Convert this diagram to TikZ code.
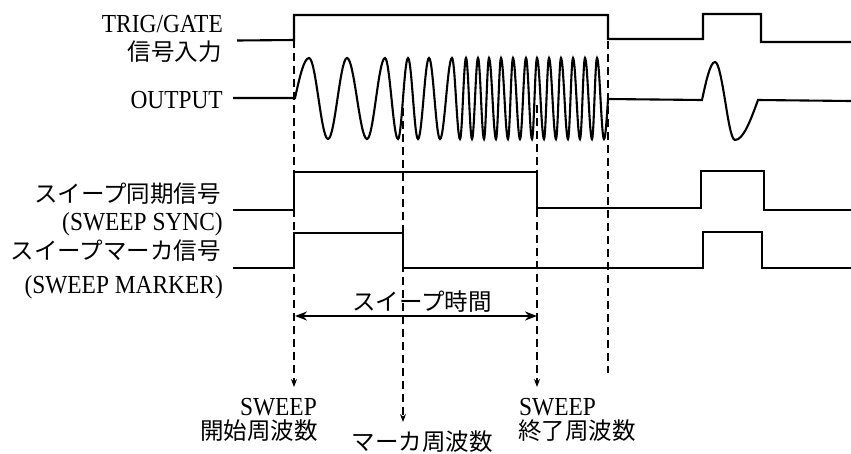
\documentclass[tikz,border=0pt]{standalone}
\usepackage{fontspec}
\setmainfont{Liberation Serif}[FakeStretch=0.9]
\newfontfamily\jp{Noto Sans CJK JP}
\usetikzlibrary{arrows.meta}

\begin{document}
\begin{tikzpicture}[
  x=1pt, y=-1pt,
  sig/.style={line width=2.1pt, line join=miter},
  guide/.style={line width=1.1pt, dash pattern=on 8pt off 5pt, -{Stealth[length=8pt,width=6pt]}},
  arr/.style={line width=2pt, {Stealth[length=12pt,width=9pt]}-{Stealth[length=12pt,width=9pt]}},
  lbl/.style={inner sep=0pt, font=\fontsize{26}{28}\selectfont},
  jlbl/.style={inner sep=0pt, font=\fontsize{23.5}{26}\selectfont\jp}
]
  \useasboundingbox (0,0) rectangle (851,453);

  % labels of the signals
  \node[lbl, anchor=base east] (trig) at (223,32) {TRIG/GATE};
  \node[jlbl, anchor=base east] (trigjp) at (222,60) {信号入力};
  \node[lbl, anchor=base east] (out) at (223,108) {OUTPUT};
  \node[jlbl, anchor=base east] (syncjp) at (221,202) {スイープ同期信号};
  \node[lbl, anchor=base east] (sync) at (223,230) {(SWEEP SYNC)};
  \node[jlbl, anchor=base east] (markjp) at (221,259) {スイープマーカ信号};
  \node[lbl, anchor=base east] (mark) at (223,293) {(SWEEP MARKER)};

  % frequency labels
  \node[lbl, anchor=base east] (startsw) at (317,415) {SWEEP};
  \node[jlbl, anchor=base east] (startjp) at (318,439) {開始周波数};
  \node[jlbl, anchor=base] (markfreq) at (422,450) {マーカ周波数};
  \node[lbl, anchor=base west] (stopsw) at (519,415) {SWEEP};
  \node[jlbl, anchor=base west] (stopjp) at (518,439) {終了周波数};
  \node[jlbl, anchor=base] (swtime) at (422,310) {スイープ時間};

  \coordinate (gstart) at (294,40);
  \coordinate (tipstart) at (294,387);
  \coordinate (gmark) at (403,108);
  \coordinate (tipmark) at (403,422);
  \coordinate (gstop) at (537,105);
  \coordinate (tipstop) at (537,387);
  \coordinate (gend) at (608,15);
  \coordinate (tipend) at (608,373);
  \coordinate (tleft) at (295,316);
  \coordinate (tright) at (537,316);

  \draw[guide] (gstart) -- (tipstart);
  \draw[guide] (gmark) -- (tipmark);
  \draw[guide] (gstop) -- (tipstop);
  \draw[guide, -] (gend) -- (tipend);
  \draw[arr] (tleft) -- (tright);

  % waveforms
  \draw[sig] (237,40.5) -- (294,40) -- (294,15) -- (608,15) -- (608,39) -- (703,39)
    -- (703,14) -- (761,14) -- (761,42) -- (851,42);
  \draw[sig] (233,98) -- (295,98) sin (309,58)
    foreach \x [remember=\x as \lx (initially 309), count=\i] in
      {328,347,367,385,398,408,418,429,440,452,460,466,472,478,484,489,496,501,
       508,513,520,526,532,537,544,549,556,561,568,573,580,585,592,597,604}
      { cos ({(\lx+\x)/2},98.5) sin (\x,{mod(\i,2)==1 ? 139 : 58}) }
    cos (608,99) -- (702,100) sin (715,62) cos (725,100) sin (735,140) cos (758,100)
    -- (851,101);
  \draw[sig] (233,210) -- (294,210) -- (294,172) -- (537,172) -- (537,208) -- (701,208)
    -- (701,171) -- (764,171) -- (764,210) -- (851,210);
  \draw[sig] (233,268) -- (294,268) -- (294,233) -- (403,233) -- (403,268) -- (703,268)
    -- (703,232) -- (762,232) -- (762,268) -- (851,268);
\end{tikzpicture}
\end{document}
